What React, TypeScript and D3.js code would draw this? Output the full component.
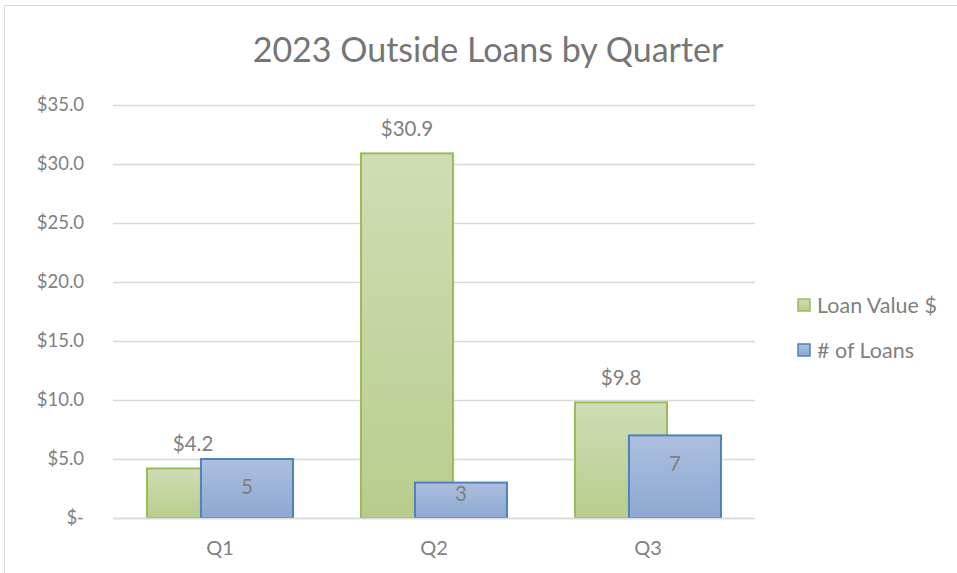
import React, { useEffect, useRef } from 'react';
import * as d3 from 'd3';

const quarters = ['Q1', 'Q2', 'Q3'];
const loanValue = [4.2, 30.9, 9.8];
const loanCount = [5, 3, 7];
const yTicks = [0, 5, 10, 15, 20, 25, 30, 35];
const seriesNames = ['Loan Value $', '# of Loans'];

const FONT = 'Lato, "Open Sans", sans-serif';
const TEXT = '#7f7f7f';

const App: React.FC = () => {
  const ref = useRef<SVGSVGElement>(null);

  useEffect(() => {
    if (!ref.current) return;
    const svg = d3.select(ref.current);
    svg.selectAll('*').remove();

    const width = 957;
    const height = 573;
    const margin = { top: 105, right: 202, bottom: 55, left: 113 };

    const defs = svg.append('defs');
    const grad = (id: string, top: string, bottom: string) => {
      const g = defs
        .append('linearGradient')
        .attr('id', id)
        .attr('x1', 0)
        .attr('y1', 0)
        .attr('x2', 0)
        .attr('y2', 1);
      g.append('stop').attr('offset', '0%').attr('stop-color', top);
      g.append('stop').attr('offset', '100%').attr('stop-color', bottom);
    };
    grad('gGreen', '#cfddb5', '#b8cd8c');
    grad('gBlue', '#adbfde', '#8ca8d3');

    // chart area border
    svg
      .append('rect')
      .attr('x', 4.5)
      .attr('y', 5.5)
      .attr('width', 1200)
      .attr('height', 1200)
      .attr('fill', '#fff')
      .attr('stroke', '#d9d9d9');

    svg
      .append('text')
      .attr('x', 488)
      .attr('y', 62)
      .attr('text-anchor', 'middle')
      .attr('font-family', FONT)
      .attr('font-weight', 400)
      .attr('font-size', 34)
      .attr('fill', '#757575')
      .text('2023 Outside Loans by Quarter');

    const x = d3
      .scaleBand<string>()
      .domain(quarters)
      .range([margin.left, width - margin.right])
      .padding(0);

    const y = d3
      .scaleLinear()
      .domain([0, 35])
      .range([height - margin.bottom, margin.top]);

    // gridlines
    svg
      .append('g')
      .selectAll('line')
      .data(yTicks)
      .enter()
      .append('line')
      .attr('x1', margin.left)
      .attr('x2', width - margin.right)
      .attr('y1', d => Math.round(y(d)) + 0.5)
      .attr('y2', d => Math.round(y(d)) + 0.5)
      .attr('stroke', '#d9d9d9')
      .attr('stroke-width', 1.5);

    svg
      .append('g')
      .selectAll('text')
      .data(yTicks)
      .enter()
      .append('text')
      .attr('x', 84)
      .attr('y', d => y(d))
      .attr('dy', '0.35em')
      .attr('text-anchor', 'end')
      .attr('font-family', FONT)
      .attr('font-size', 18.5)
      .attr('fill', TEXT)
      .text(d => (d === 0 ? '$-' : `$${d.toFixed(1)}`));

    svg
      .append('g')
      .selectAll('text')
      .data(quarters)
      .enter()
      .append('text')
      .attr('x', d => (x(d) as number) + x.bandwidth() / 2)
      .attr('y', 548)
      .attr('dy', '0.35em')
      .attr('text-anchor', 'middle')
      .attr('font-family', FONT)
      .attr('font-size', 20)
      .attr('fill', TEXT)
      .text(d => d);

    const barW = x.bandwidth() * 0.43;
    const shift = x.bandwidth() * 0.252;
    const greenX = (q: string) =>
      (x(q) as number) + x.bandwidth() / 2 - (barW + shift) / 2;
    const blueX = (q: string) => greenX(q) + shift;

    const bars = svg.append('g');
    bars
      .selectAll('rect.green')
      .data(quarters)
      .enter()
      .append('rect')
      .attr('class', 'green')
      .attr('x', d => greenX(d))
      .attr('y', (d, i) => y(loanValue[i]))
      .attr('width', barW)
      .attr('height', (d, i) => y(0) - y(loanValue[i]))
      .attr('fill', 'url(#gGreen)')
      .attr('stroke', '#9bbb59')
      .attr('stroke-width', 2);

    bars
      .selectAll('rect.blue')
      .data(quarters)
      .enter()
      .append('rect')
      .attr('class', 'blue')
      .attr('x', d => blueX(d))
      .attr('y', (d, i) => y(loanCount[i]))
      .attr('width', barW)
      .attr('height', (d, i) => y(0) - y(loanCount[i]))
      .attr('fill', 'url(#gBlue)')
      .attr('stroke', '#4f81bd')
      .attr('stroke-width', 2);

    // baseline over bars
    svg
      .append('line')
      .attr('x1', margin.left)
      .attr('x2', width - margin.right)
      .attr('y1', Math.round(y(0)) + 0.5)
      .attr('y2', Math.round(y(0)) + 0.5)
      .attr('stroke', '#d9d9d9')
      .attr('stroke-width', 1.5);

    svg
      .append('g')
      .selectAll('text')
      .data(quarters)
      .enter()
      .append('text')
      .attr('x', d => greenX(d) + barW / 2)
      .attr('y', (d, i) => y(loanValue[i]) - 25)
      .attr('dy', '0.35em')
      .attr('text-anchor', 'middle')
      .attr('font-family', FONT)
      .attr('font-size', 20.5)
      .attr('fill', TEXT)
      .text((d, i) => `$${loanValue[i].toFixed(1)}`);

    svg
      .append('g')
      .selectAll('text')
      .data(quarters)
      .enter()
      .append('text')
      .attr('x', d => blueX(d) + barW / 2)
      .attr('y', (d, i) => {
        const top = y(loanCount[i]);
        const h = y(0) - top;
        return top + (h > 50 ? 28 : 11);
      })
      .attr('dy', '0.35em')
      .attr('text-anchor', 'middle')
      .attr('font-family', FONT)
      .attr('font-size', 20.5)
      .attr('fill', TEXT)
      .text((d, i) => `${loanCount[i]}`);

    // legend
    const legend = svg
      .append('g')
      .selectAll('g')
      .data(seriesNames)
      .enter()
      .append('g')
      .attr('transform', (d, i) => `translate(798,${305 + i * 45})`);
    legend
      .append('rect')
      .attr('x', 0)
      .attr('y', -6)
      .attr('width', 12)
      .attr('height', 12)
      .attr('fill', (d, i) => (i === 0 ? 'url(#gGreen)' : 'url(#gBlue)'))
      .attr('stroke', (d, i) => (i === 0 ? '#9bbb59' : '#4f81bd'))
      .attr('stroke-width', 1.5);
    legend
      .append('text')
      .attr('x', 19)
      .attr('y', 0)
      .attr('dy', '0.35em')
      .attr('font-family', FONT)
      .attr('font-size', 21.5)
      .attr('fill', TEXT)
      .text(d => d);
  }, []);

  return (
    <svg
      ref={ref}
      width={957}
      height={573}
      style={{ position: 'absolute', left: 0, top: 0, background: '#fff' }}
    />
  );
};

export default App;
